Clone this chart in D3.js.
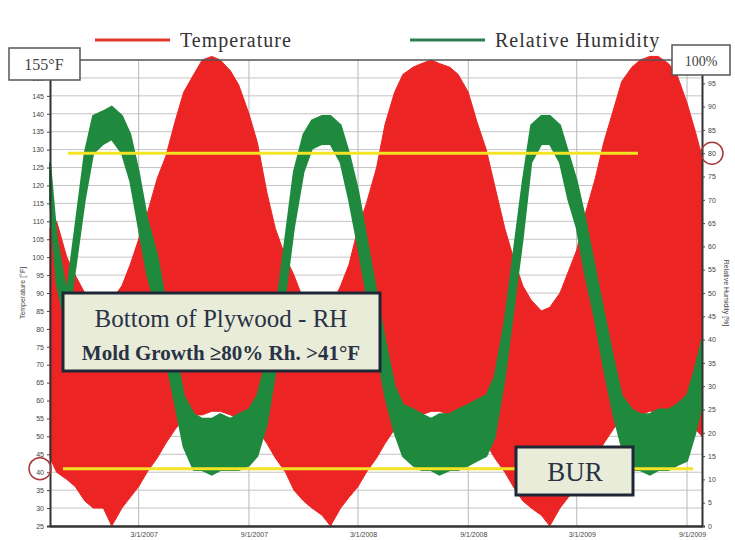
<!DOCTYPE html>
<html>
<head>
<meta charset="utf-8">
<script src="https://cdn.jsdelivr.net/npm/d3@7"></script>
<style>
  body { margin: 0; background: #fff; }
  svg { display: block; }
</style>
</head>
<body>
<div id="chart"></div>
<script>
const width = 735;
const height = 540;

const dates = [
  "2006-10-04", "2006-10-15", "2006-11-01", "2006-11-15", "2006-12-01", "2006-12-15",
  "2007-01-01", "2007-01-15", "2007-02-01", "2007-02-15", "2007-03-01", "2007-03-15",
  "2007-04-01", "2007-04-15", "2007-05-01", "2007-05-15", "2007-06-01", "2007-06-15",
  "2007-07-01", "2007-07-15", "2007-08-01", "2007-08-15", "2007-09-01", "2007-09-15",
  "2007-10-01", "2007-10-15", "2007-11-01", "2007-11-15", "2007-12-01", "2007-12-15",
  "2008-01-01", "2008-01-15", "2008-02-01", "2008-02-15", "2008-03-01", "2008-03-15",
  "2008-04-01", "2008-04-15", "2008-05-01", "2008-05-15", "2008-06-01", "2008-06-15",
  "2008-07-01", "2008-07-15", "2008-08-01", "2008-08-15", "2008-09-01", "2008-09-15",
  "2008-10-01", "2008-10-15", "2008-11-01", "2008-11-15", "2008-12-01", "2008-12-15",
  "2009-01-01", "2009-01-15", "2009-02-01", "2009-02-15", "2009-03-01", "2009-03-15",
  "2009-04-01", "2009-04-15", "2009-05-01", "2009-05-15", "2009-06-01", "2009-06-15",
  "2009-07-01", "2009-07-15", "2009-08-01", "2009-08-15", "2009-09-01", "2009-09-15",
  "2009-09-26"
];

// Temperature [°F]
const tempHigh = [
  108, 110, 100, 95, 90, 85,
  82, 88, 92, 98, 105, 112,
  122, 128, 138, 146, 151, 155,
  156, 155, 152, 148, 140, 132,
  118, 108, 100, 95, 88, 85,
  84, 86, 92, 98, 108, 115,
  125, 137, 146, 151, 153, 154,
  155, 154, 153, 151, 146, 138,
  130, 120, 108, 100, 92, 88,
  85, 86, 90, 96, 102, 112,
  122, 132, 141, 149, 153, 155,
  156, 156, 154, 151, 143, 135,
  128
];
const tempLow = [
  44, 40, 38, 36, 32, 30,
  30, 25, 30, 33, 36, 40,
  44, 48, 52, 55, 56, 56,
  57, 57, 56, 55, 54, 52,
  48, 44, 40, 35, 32, 30,
  28, 25, 30, 33, 36, 40,
  44, 48, 52, 55, 56, 56,
  57, 57, 56, 56, 54, 52,
  48, 44, 40, 36, 32, 30,
  28, 25, 30, 33, 36, 40,
  44, 48, 52, 55, 56, 56,
  57, 57, 56, 56, 54, 52,
  50
];

// Relative Humidity [%]
const rhHigh = [
  78, 62, 50, 64, 80, 88,
  89, 90, 88, 84, 76, 66,
  58, 48, 38, 28, 24, 23,
  23, 24, 23, 24, 25, 28,
  36, 45, 62, 76, 84, 87,
  88, 88, 86, 80, 72, 62,
  50, 40, 30, 26, 25, 24,
  23, 24, 24, 25, 26, 27,
  28, 32, 44, 58, 74, 86,
  88, 88, 86, 80, 74, 66,
  55, 46, 36, 28, 25, 24,
  24, 25, 25, 26, 28, 34,
  40
];
const rhLow = [
  70, 52, 42, 55, 70, 80,
  82, 83, 80, 74, 64, 54,
  46, 36, 26, 17, 12, 12,
  11, 12, 12, 12, 13, 15,
  22, 33, 50, 64, 76, 81,
  82, 82, 78, 70, 60, 50,
  38, 28, 20, 15, 13, 12,
  12, 11, 12, 12, 13, 14,
  15, 19, 32, 46, 62, 78,
  82, 82, 78, 70, 64, 54,
  44, 34, 24, 17, 12, 12,
  11, 12, 12, 13, 14, 20,
  26
];

const tempTicks = [25, 30, 35, 40, 45, 50, 55, 60, 65, 70, 75, 80, 85, 90, 95, 100,
  105, 110, 115, 120, 125, 130, 135, 140, 145, 150];
const rhTicks = [0, 5, 10, 15, 20, 25, 30, 35, 40, 45, 50, 55, 60, 65, 70, 75, 80, 85, 90, 95];
const xTickDates = ["2007-03-01", "2007-09-01", "2008-03-01", "2008-09-01", "2009-03-01", "2009-09-01"];
const xTickLabels = ["3/1/2007", "9/1/2007", "3/1/2008", "9/1/2008", "3/1/2009", "9/1/2009"];

const parse = d3.timeParse("%Y-%m-%d");
const rows = dates.map((d, i) => ({
  date: parse(d),
  tHi: tempHigh[i], tLo: tempLow[i],
  hHi: rhHigh[i], hLo: rhLow[i]
}));

const plotLeft = 50, plotRight = 702, plotTop = 60, plotBottom = 526;

const x = d3.scaleTime()
  .domain([parse("2006-10-04"), parse("2009-09-26")])
  .range([plotLeft, plotRight]);
const yT = d3.scaleLinear().domain([25, 155]).range([plotBottom, plotTop]);
const yH = d3.scaleLinear().domain([0, 100]).range([plotBottom, plotTop]);

const svg = d3.select('#chart')
  .append('svg')
    .attr('width', width)
    .attr('height', height);

const serif = '"Liberation Serif", "DejaVu Serif", serif';
const sans = '"Liberation Sans", Arial, sans-serif';

// grid
const grid = svg.append('g');
grid.selectAll('.hg').data(tempTicks).join('line')
  .attr('x1', plotLeft).attr('x2', plotRight)
  .attr('y1', d => yT(d)).attr('y2', d => yT(d))
  .attr('stroke', '#c4c4c4').attr('stroke-width', 1);
grid.selectAll('.vg').data(xTickDates).join('line')
  .attr('x1', d => x(parse(d))).attr('x2', d => x(parse(d)))
  .attr('y1', plotTop).attr('y2', plotBottom)
  .attr('stroke', '#b8b8b8').attr('stroke-width', 1);

// series
const tempArea = d3.area()
  .x(d => x(d.date))
  .y0(d => yT(d.tLo))
  .y1(d => yT(d.tHi));
const rhArea = d3.area()
  .x(d => x(d.date))
  .y0(d => yH(d.hLo))
  .y1(d => yH(d.hHi));

svg.append('path')
  .datum(rows)
  .attr('d', tempArea)
  .attr('fill', '#ec2424')
  .attr('stroke', '#ec2424')
  .attr('stroke-width', 1);

svg.append('path')
  .datum(rows)
  .attr('d', rhArea)
  .attr('fill', '#1f8a3e')
  .attr('stroke', '#1f8a3e')
  .attr('stroke-width', 2);

// reference lines
svg.append('line')
  .attr('x1', 68).attr('x2', 638)
  .attr('y1', yH(80)).attr('y2', yH(80))
  .attr('stroke', '#f4e424').attr('stroke-width', 3);
svg.append('line')
  .attr('x1', 63).attr('x2', 693)
  .attr('y1', yT(41)).attr('y2', yT(41))
  .attr('stroke', '#f4e424').attr('stroke-width', 3);

// axes
const axisL = svg.append('g')
  .attr('transform', `translate(${plotLeft},0)`)
  .call(d3.axisLeft(yT).tickValues(tempTicks).tickSize(3));
const axisR = svg.append('g')
  .attr('transform', `translate(${plotRight},0)`)
  .call(d3.axisRight(yH).tickValues(rhTicks).tickSize(3));
const axisB = svg.append('g')
  .attr('transform', `translate(0,${plotBottom})`)
  .call(d3.axisBottom(x)
    .tickValues(xTickDates.map(parse))
    .tickFormat((d, i) => xTickLabels[i])
    .tickSize(0)
    .tickPadding(6));

[axisL, axisR, axisB].forEach(a => {
  a.selectAll('text').attr('font-family', sans).attr('font-size', 7).attr('fill', '#444');
  a.selectAll('line').attr('stroke', '#444');
  a.select('.domain').attr('stroke', '#333').attr('stroke-width', 2);
});
axisB.selectAll('text').attr('dx', 5);
axisB.select('.domain').attr('stroke-width', 2.5);

// top frame
svg.append('line')
  .attr('x1', plotLeft).attr('x2', plotRight)
  .attr('y1', plotTop).attr('y2', plotTop)
  .attr('stroke', '#555').attr('stroke-width', 1.5);

// axis titles
svg.append('text')
  .attr('transform', `translate(25,${(plotTop + plotBottom) / 2}) rotate(-90)`)
  .attr('text-anchor', 'middle')
  .attr('font-family', sans).attr('font-size', 7).attr('fill', '#444')
  .text('Temperature [°F]');
svg.append('text')
  .attr('transform', `translate(724,${(plotTop + plotBottom) / 2}) rotate(90)`)
  .attr('text-anchor', 'middle')
  .attr('font-family', sans).attr('font-size', 7).attr('fill', '#444')
  .text('Relative Humidity [%]');

// legend
svg.append('line').attr('x1', 95).attr('x2', 170).attr('y1', 40).attr('y2', 40)
  .attr('stroke', '#e0352a').attr('stroke-width', 3);
svg.append('text').attr('x', 180).attr('y', 47)
  .attr('font-family', serif).attr('font-size', 20).attr('letter-spacing', 1).attr('fill', '#333')
  .text('Temperature');
svg.append('line').attr('x1', 410).attr('x2', 485).attr('y1', 40).attr('y2', 40)
  .attr('stroke', '#2e7d4f').attr('stroke-width', 3);
svg.append('text').attr('x', 495).attr('y', 47)
  .attr('font-family', serif).attr('font-size', 20).attr('letter-spacing', 1).attr('fill', '#333')
  .text('Relative Humidity');

// corner boxes
svg.append('rect').attr('x', 9).attr('y', 48).attr('width', 71).attr('height', 32)
  .attr('fill', '#fff').attr('stroke', '#555').attr('stroke-width', 1.5);
svg.append('text').attr('x', 44).attr('y', 70).attr('text-anchor', 'middle')
  .attr('font-family', serif).attr('font-size', 16).attr('fill', '#444')
  .text('155°F');
svg.append('rect').attr('x', 672).attr('y', 45).attr('width', 58).attr('height', 30)
  .attr('fill', '#fff').attr('stroke', '#555').attr('stroke-width', 1.5);
svg.append('text').attr('x', 701).attr('y', 66).attr('text-anchor', 'middle')
  .attr('font-family', serif).attr('font-size', 14).attr('fill', '#444')
  .text('100%');

// circles marking the thresholds
svg.append('circle').attr('cx', 40).attr('cy', yT(41)).attr('r', 11)
  .attr('fill', 'none').attr('stroke', '#a83a3a').attr('stroke-width', 1.5);
svg.append('circle').attr('cx', 712).attr('cy', yH(80)).attr('r', 11)
  .attr('fill', 'none').attr('stroke', '#a83a3a').attr('stroke-width', 1.5);

// annotation boxes
svg.append('rect').attr('x', 63).attr('y', 293).attr('width', 317).attr('height', 78)
  .attr('fill', '#e8ecd8').attr('stroke', '#1f2636').attr('stroke-width', 3);
svg.append('text').attr('x', 221).attr('y', 327).attr('text-anchor', 'middle')
  .attr('font-family', serif).attr('font-size', 25).attr('fill', '#2a3245')
  .text('Bottom of Plywood - RH');
svg.append('text').attr('x', 221).attr('y', 360).attr('text-anchor', 'middle')
  .attr('font-family', serif).attr('font-size', 21).attr('font-weight', 'bold').attr('fill', '#2a3245')
  .text('Mold Growth ≥80% Rh. >41°F');

svg.append('rect').attr('x', 516).attr('y', 447).attr('width', 117).attr('height', 48)
  .attr('fill', '#e8ecd8').attr('stroke', '#1f2636').attr('stroke-width', 3);
svg.append('text').attr('x', 575).attr('y', 481).attr('text-anchor', 'middle')
  .attr('font-family', serif).attr('font-size', 27).attr('fill', '#2a3245')
  .text('BUR');
</script>
</body>
</html>
